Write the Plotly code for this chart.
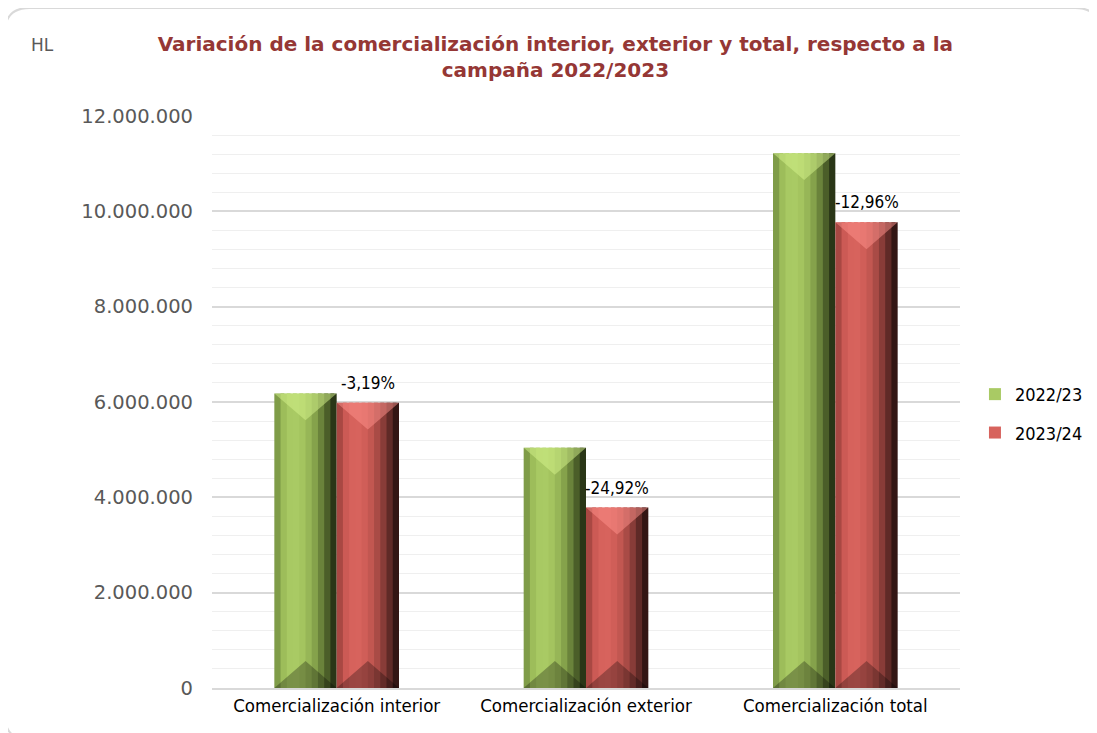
import plotly.graph_objects as go

categorias = ['Comercialización interior', 'Comercialización exterior', 'Comercialización total']
campana_2022_23 = [6180000, 5040000, 11220000]
campana_2023_24 = [5985000, 3785000, 9770000]
variacion = ['-3,19%', '-24,92%', '-12,96%']

# horizontal shading to fake the bevelled 3D look of the original bars
verdes = ['#7f9c48', '#9dbd5a', '#a8c963', '#a9ca64', '#a4c45f', '#97b657',
          '#85a24b', '#6a833b', '#4b5e29', '#2a3617']
rojos = ['#a94843', '#cc5a55', '#d6625c', '#d7635d', '#d05e58', '#c25751',
          '#a94b46', '#883c38', '#5f2a27', '#331614']

posiciones = list(range(len(categorias)))
series = [('2022/23', campana_2022_23, verdes, -0.25, 'rgba(214,244,140,0.5)'),
          ('2023/24', campana_2023_24, rojos, 0.0, 'rgba(255,145,140,0.5)')]
ancho = 0.25
n = len(verdes)
paso = ancho / n
y_max = 12000000
bisel = 0.047 * y_max  # depth of the bevel triangles

fig = go.Figure()
for nombre, valores, colores, inicio, brillo in series:
    for i, c in enumerate(colores):
        # strips overlap a little so no white seams show between them
        w = paso if i == n - 1 else paso * 1.6
        fig.add_trace(go.Bar(
            x=posiciones, y=valores, name=nombre,
            width=w, offset=inicio + i * paso,
            marker=dict(color=c, line=dict(width=0)),
            showlegend=(i == 3), legendgroup=nombre,
            customdata=categorias,
            hovertemplate='%{customdata}<br>' + nombre + ': %{y:,.0f}<extra></extra>',
        ))

    # bevel: light triangle on top, dark one at the foot of each bar
    xs_sup, ys_sup, xs_inf, ys_inf = [], [], [], []
    for p, v in zip(posiciones, valores):
        a, b = p + inicio, p + inicio + ancho
        m = (a + b) / 2
        xs_sup += [a, b, m, a, None]
        ys_sup += [v, v, v - bisel, v, None]
        xs_inf += [a, b, m, a, None]
        ys_inf += [0, 0, bisel, 0, None]
    fig.add_trace(go.Scatter(x=xs_sup, y=ys_sup, mode='lines', fill='toself',
                             fillcolor=brillo, line=dict(width=0),
                             showlegend=False, hoverinfo='skip', legendgroup=nombre))
    fig.add_trace(go.Scatter(x=xs_inf, y=ys_inf, mode='lines', fill='toself',
                             fillcolor='rgba(0,0,0,0.28)', line=dict(width=0),
                             showlegend=False, hoverinfo='skip', legendgroup=nombre))

anotaciones = [dict(x=p + ancho / 2, y=val, text=txt, showarrow=False, yshift=8,
                    yanchor='bottom', xanchor='center',
                    font=dict(family='DejaVu Sans Condensed', size=17, color='#000000'))
               for p, val, txt in zip(posiciones, campana_2023_24, variacion)]
anotaciones.append(dict(text='HL', xref='paper', yref='paper', x=-0.245, y=1.124,
                        xanchor='left', yanchor='middle', showarrow=False,
                        font=dict(family='DejaVu Sans', size=17, color='#595959')))

# rounded frame around the chart
rx, ry = 0.033, 0.044
x0, x1, y0, y1 = -0.277, 1.187, -0.091, 1.189
marco = (f'M {x0 + rx} {y1} L {x1 - rx} {y1} Q {x1} {y1} {x1} {y1 - ry} '
         f'L {x1} {y0 + ry} Q {x1} {y0} {x1 - rx} {y0} L {x0 + rx} {y0} '
         f'Q {x0} {y0} {x0} {y0 + ry} L {x0} {y1 - ry} Q {x0} {y1} {x0 + rx} {y1} Z')

fig.update_layout(
    width=1097, height=733,
    barmode='overlay',
    plot_bgcolor='white', paper_bgcolor='white',
    margin=dict(l=204, r=145, t=108, b=53),
    title=dict(
        text='<b>Variación de la comercialización interior, exterior y total, respecto a la<br>campaña 2022/2023</b>',
        x=0.499, xanchor='center', y=0.941, yanchor='top',
        font=dict(family='DejaVu Sans', size=20, color='#953735'),
    ),
    legend=dict(x=1.02, y=0.48, xanchor='left', yanchor='middle',
                font=dict(family='DejaVu Sans Condensed', size=18, color='#000000'),
                tracegroupgap=12, itemwidth=30),
    annotations=anotaciones,
    shapes=[dict(type='path', xref='paper', yref='paper', path=marco,
                 line=dict(color='#d9d9d9', width=2), layer='below')],
    separators=',.',
)
fig.update_xaxes(
    range=[-0.5, 2.5], tickvals=posiciones, ticktext=categorias,
    showline=True, linecolor='#d9d9d9', linewidth=1.5, showgrid=False, zeroline=False,
    ticks='', tickfont=dict(family='DejaVu Sans Condensed', size=18.5, color='#000000'),
)
fig.update_yaxes(
    range=[0, y_max], dtick=2000000, tickformat=',.0f',
    showgrid=True, gridcolor='#d9d9d9', gridwidth=1.5, zeroline=False,
    minor=dict(dtick=400000, showgrid=True, gridcolor='#efefef', gridwidth=1),
    ticklabelstandoff=18,
    tickfont=dict(family='DejaVu Sans', size=19.5, color='#595959'),
)

fig.write_html("out.html")
